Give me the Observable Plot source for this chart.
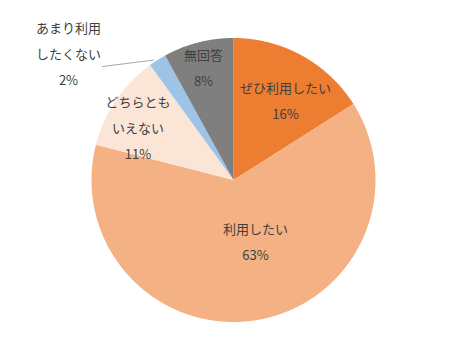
<!DOCTYPE html>
<html><head><meta charset="utf-8">
<script src="https://cdn.jsdelivr.net/npm/d3@7"></script>
<script src="https://cdn.jsdelivr.net/npm/@observablehq/plot@0.6"></script>
<style>
html,body{margin:0;padding:0;background:#fff;}
#chart{width:466px;height:359px;}
</style>
</head><body><div id="chart"></div>
<script>
// Data
const categories = ["ぜひ利用したい", "利用したい", "どちらともいえない", "あまり利用したくない", "無回答"];
const values = [16, 63, 11, 2, 8];
const labelLines = [["ぜひ利用したい"], ["利用したい"], ["どちらとも", "いえない"], ["あまり利用", "したくない"], ["無回答"]];
const colors = ["#ED7D31", "#F4B183", "#FBE5D6", "#9DC3E6", "#7F7F7F"];

// Layout (pixels)
const W = 466, H = 359;
const cx = 233, cy = 179.5, R = 142;
const textShift = -4;
const labelOffsets = [[52, -78], [22, 63], [-95.5, -51.5], [-165, -125], [-30, -111.5]];
const leaderFrom = [-131, -113.5]; // offset of leader start from center (outside label)

const arcs = d3.pie().sort(null).value(d => d)(values);
const pt = (a, r) => [cx + r * Math.sin(a), cy - r * Math.cos(a)];

const polys = [];
arcs.forEach((a, i) => {
  polys.push({k: i, x: cx, y: cy, c: colors[i]});
  const n = Math.max(2, Math.ceil((a.endAngle - a.startAngle) / 0.01));
  for (let j = 0; j <= n; j++) {
    const t = a.startAngle + (a.endAngle - a.startAngle) * j / n;
    const [x, y] = pt(t, R);
    polys.push({k: i, x, y, c: colors[i]});
  }
});

const labels = arcs.map((a, i) => ({
  x: cx + labelOffsets[i][0],
  y: cy + labelOffsets[i][1] + textShift,
  text: [...labelLines[i], values[i] + "%"].join("\n")
}));

// leader line for small slice (あまり利用したくない)
const small = arcs[3];
const mid = (small.startAngle + small.endAngle) / 2;
const [ex, ey] = pt(mid, R);
const leader = [{x: cx + leaderFrom[0], y: cy + leaderFrom[1]}, {x: ex - 4, y: ey}];

const chart = Plot.plot({
  width: W, height: H,
  margin: 0,
  x: {domain: [0, W], range: [0, W], axis: null},
  y: {domain: [0, H], range: [0, H], axis: null},
  color: {type: "identity"},
  style: {fontFamily: "'Noto Sans CJK JP', 'Noto Sans', sans-serif", background: "#fff"},
  marks: [
    Plot.line(polys, {x: "x", y: "y", z: "k", fill: "c", stroke: "none", curve: "linear"}),
    Plot.line(leader, {x: "x", y: "y", stroke: "#A6A6A6", strokeWidth: 1}),
    Plot.text(labels, {x: "x", y: "y", text: "text", fontSize: 13, fill: "#404040", lineHeight: 2, lineAnchor: "middle"})
  ]
});
document.getElementById("chart").append(chart);
</script>
</body></html>
